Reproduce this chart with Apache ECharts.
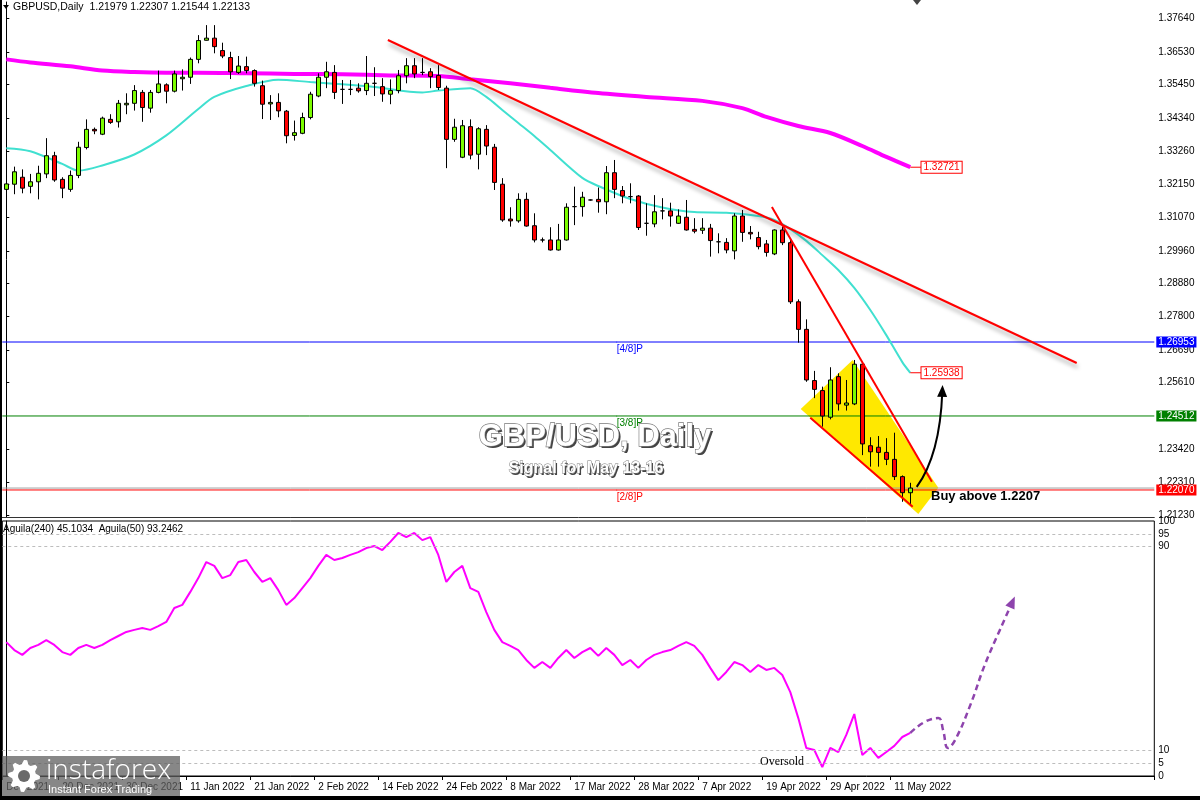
<!DOCTYPE html>
<html><head><meta charset="utf-8">
<script src="https://cdn.jsdelivr.net/npm/echarts@6/dist/echarts.min.js"></script>
<style>html,body{margin:0;padding:0;background:#fff}#c{width:1200px;height:800px}</style>
</head><body><div id="c"></div>
<script>
// ---------- DATA ----------
const opens=[1.3199,1.3216,1.3239,1.3209,1.3224,1.3250,1.3310,1.3232,1.3199,1.3245,
1.3337,1.3397,1.3381,1.3430,1.3422,1.3478,1.3483,1.3519,1.3467,1.3519,
1.3544,1.3523,1.3564,1.3569,1.3628,1.3691,1.3698,1.3657,1.3634,1.3585,
1.3604,1.3591,1.3541,1.3481,1.3486,1.3457,1.3377,1.3384,1.3436,1.3507,
1.3569,1.3585,1.3529,1.3529,1.3533,1.3525,1.3549,1.3538,1.3513,1.3525,
1.3574,1.3607,1.3585,1.3587,1.3575,1.3533,1.3364,1.3305,1.3406,1.3315,
1.3397,1.3338,1.3216,1.3101,1.3095,1.3166,1.3079,1.3032,1.3032,1.2999,
1.3032,1.3142,1.3142,1.3164,1.3166,1.3158,1.3254,1.3195,1.3175,1.3177,
1.3087,1.3085,1.3128,1.3128,1.3087,1.3107,1.3067,1.3064,1.3071,1.3026,
1.3024,1.2996,1.3111,1.3057,1.3040,1.3019,1.2986,1.3065,1.3023,1.2828,
1.2737,1.2568,1.2535,1.2447,1.2581,1.2487,1.2491,1.2622,1.2353,1.2348,
1.2331,1.2308,1.2251,1.21979];
const highs=[1.3221,1.3274,1.3265,1.3250,1.3277,1.3368,1.3323,1.3239,1.3261,1.3356,
1.3430,1.3403,1.3439,1.3447,1.3494,1.3516,1.3543,1.3527,1.3527,1.3591,
1.3549,1.3591,1.3595,1.3634,1.3708,1.3741,1.3741,1.3683,1.3653,1.3639,
1.3637,1.3595,1.3558,1.3510,1.3516,1.3461,1.3426,1.3452,1.3521,1.3582,
1.3620,1.3609,1.3560,1.3560,1.3549,1.3639,1.3602,1.3566,1.3562,1.3593,
1.3632,1.3632,1.3632,1.3599,1.3609,1.3541,1.3432,1.3428,1.3430,1.3404,
1.3411,1.3349,1.3236,1.3140,1.3186,1.3188,1.3120,1.3040,1.3074,1.3085,
1.3153,1.3208,1.3191,1.3166,1.3205,1.3276,1.3296,1.3210,1.3219,1.3180,
1.3153,1.3180,1.3170,1.3155,1.3133,1.3164,1.3104,1.3104,1.3085,1.3054,
1.3038,1.3120,1.3131,1.3078,1.3059,1.3032,1.3067,1.3076,1.3038,1.2836,
1.2770,1.2600,1.2548,1.2612,1.2592,1.2570,1.2636,1.2625,1.2381,1.2385,
1.2378,1.2396,1.2255,1.22307];
const lows=[1.3166,1.3183,1.3186,1.3186,1.3166,1.3236,1.3224,1.3170,1.3191,1.3236,
1.3331,1.3381,1.3378,1.3415,1.3403,1.3447,1.3459,1.3422,1.3452,1.3516,
1.3483,1.3519,1.3525,1.3547,1.3615,1.3690,1.3648,1.3632,1.3563,1.3580,
1.3582,1.3538,1.3431,1.3428,1.3437,1.3351,1.3360,1.3381,1.3430,1.3503,
1.3533,1.3497,1.3481,1.3510,1.3518,1.3510,1.3507,1.3488,1.3480,1.3516,
1.3549,1.3566,1.3576,1.3533,1.3527,1.3269,1.3356,1.3302,1.3298,1.3265,
1.3312,1.3197,1.3092,1.3076,1.3089,1.3076,1.3024,1.3024,1.2997,1.2997,
1.3030,1.3081,1.3109,1.3162,1.3122,1.3117,1.3170,1.3153,1.3153,1.3065,
1.3046,1.3074,1.3100,1.3076,1.3085,1.3063,1.3054,1.3052,1.2977,1.2988,
1.2988,1.2968,1.3026,1.3034,1.3001,1.2977,1.2982,1.3015,1.2821,1.2693,
1.2564,1.2510,1.2416,1.2440,1.2469,1.2469,1.2487,1.2322,1.2284,1.2284,
1.2289,1.2240,1.2168,1.21544];
const closes=[1.3217,1.3257,1.3203,1.3224,1.3252,1.3310,1.3230,1.3203,1.3245,1.3338,
1.3397,1.3392,1.3434,1.3420,1.3483,1.3483,1.3525,1.3469,1.3519,1.3547,
1.3523,1.3580,1.3569,1.3628,1.3690,1.3698,1.3670,1.3639,1.3587,1.3606,
1.3591,1.3549,1.3480,1.3486,1.3458,1.3376,1.3386,1.3436,1.3513,1.3569,
1.3587,1.3519,1.3529,1.3529,1.3524,1.3549,1.3549,1.3514,1.3525,1.3574,
1.3607,1.3580,1.3585,1.3571,1.3535,1.3364,1.3404,1.3409,1.3312,1.3399,
1.3342,1.3222,1.3098,1.3095,1.3166,1.3078,1.3032,1.3032,1.2999,1.3032,
1.3140,1.3142,1.3173,1.3164,1.3158,1.3254,1.3199,1.3177,1.3175,1.3073,
1.3087,1.3125,1.3128,1.3111,1.3111,1.3065,1.3061,1.3071,1.3030,1.3026,
1.2999,1.3111,1.3057,1.3052,1.3010,1.2991,1.3065,1.3023,1.2828,1.2737,
1.2570,1.2539,1.2451,1.2570,1.2491,1.2494,1.2622,1.2359,1.2333,1.2331,
1.2308,1.2251,1.2198,1.22133];

const maSlowIdx=[0,3,8,12,16,20,24,30,36,42,48,54,58,63,68,74,80,87,92,95,99,103,107,110,113];
const maSlowVal=[1.3628,1.3618,1.3605,1.3591,1.3586,1.3584,1.3584,1.3582,1.3580,1.3579,1.3575,1.3573,1.3562,1.3549,1.3534,1.3517,1.3504,1.3491,1.3467,1.3438,1.3408,1.3385,1.3342,1.3306,1.32721];
const maFastIdx=[0,3,7,9,12,16,20,24,26,30,34,38,42,46,52,54,58,60,62,64,66,68,72,74,78,82,86,90,94,96,98,100,102,104,106,108,110,112,113];
const maFastVal=[1.3335,1.3325,1.3283,1.3261,1.3278,1.3314,1.3377,1.3464,1.3504,1.3540,1.3561,1.3553,1.3546,1.3537,1.3519,1.3525,1.3533,1.3504,1.3461,1.3418,1.3375,1.3329,1.3237,1.3210,1.3167,1.3139,1.3124,1.3122,1.3111,1.3098,1.3068,1.3029,1.2982,1.2933,1.2874,1.2801,1.2718,1.2629,1.25938];

const aguila=[52.5,49.4,47.5,50.2,51.4,53.3,51.4,48.6,47.5,50.2,
51.4,50.2,51.4,53.3,54.9,56.5,57.3,58.0,57.3,58.8,
60.4,65.9,67.1,72.2,77.6,83.9,82.4,77.6,78.8,83.9,
84.7,80.0,76.1,77.6,72.9,67.1,69.8,73.7,77.6,82.4,
86.7,84.7,85.5,86.7,87.8,89.4,90.2,88.6,91.8,95.3,
93.7,95.3,92.5,93.7,86.7,76.1,80.0,82.4,73.7,72.2,
64.3,57.3,52.5,51.0,49.4,45.5,42.4,44.7,42.4,46.3,
49.4,46.3,48.6,50.2,47.1,50.2,47.5,43.5,45.5,42.4,
45.5,47.5,48.6,49.4,51.0,52.5,51.0,47.5,42.4,37.6,
40.8,44.7,43.5,40.8,43.5,41.6,42.4,39.6,32.9,22.7,
11.0,10.2,3.5,11.0,9.4,16.1,24.3,8.2,11.0,7.1,
9.4,11.8,15.3,16.9];
const projIdx=[113,114.8,116.5,117.1,117.7,118.6,120.5,122.3,124.2,125.7];
const projVal=[16.9,21.2,22.7,18.0,11.0,14.1,27.8,43.5,57.3,67.8];

const priceTicks=[1.21230,1.22310,1.23420,1.25610,1.26690,1.27800,1.28880,1.29960,1.31070,1.32150,1.33260,1.34340,1.35450,1.36530,1.37640];
const oscTicks=[0,5,10,90,95,100];
const oscLevels=[5,10,90,95];
const levelValues=[1.26953,1.24512,1.22070];
const levelTags=['[4/8]P','[3/8]P','[2/8]P'];
const levelColors=['#0000FF','#008000','#FF0000'];
const levelTagIdx=76.3;
const bidPrice=1.22133;
const dateLabelIdx=[0,7,15,23,31,39,47,55,63,71,79,87,95,103,111];
const dateLabels=['Dec 2021','20 Dec 2021','30 Dec 2021','11 Jan 2022','21 Jan 2022','2 Feb 2022','14 Feb 2022','24 Feb 2022','8 Mar 2022','17 Mar 2022','28 Mar 2022','7 Apr 2022','19 Apr 2022','29 Apr 2022','11 May 2022'];
const trendLines=[[[47.7,1.3692],[133.8,1.2626]],[[95.7,1.3141],[115.7,1.2234]],[[100.5,1.2445],[113.3,1.2152]]];
const wedgeCorners=[[99.3,1.2474],[105.8,1.2636],[116.5,1.2214],[114.0,1.2128]];
const arrowPath=[[113.8,1.2217],[116.7,1.2322],[117.0,1.2530]];

// ---------- CHART ----------
const N=144;
const cats=Array.from({length:N},(_,i)=>String(i));
const labelMap={}; dateLabelIdx.forEach((k,j)=>labelMap[k]=dateLabels[j]);
const candleData=opens.map((o,i)=>[o,closes[i],lows[i],highs[i]]);
const pair=(xs,ys)=>xs.map((x,i)=>[x,ys[i]]);
const FONT='"Liberation Sans", Arial, sans-serif';
const GL=2.3, GW=1152;

function headPoly(tip, from, len, half){
  const dx=tip[0]-from[0], dy=tip[1]-from[1], d=Math.hypot(dx,dy)||1;
  const ux=dx/d, uy=dy/d;
  const t=[tip[0]+ux*len*0.6, tip[1]+uy*len*0.6];
  const b=[tip[0]-ux*len*0.4, tip[1]-uy*len*0.4];
  return [t,[b[0]-uy*half,b[1]+ux*half],[b[0]+uy*half,b[1]-ux*half]];
}

const series=[];
series.push({type:'custom',name:'wedge',xAxisIndex:1,yAxisIndex:0,z:1,silent:true,
  data:[wedgeCorners[0]],
  renderItem:(p,api)=>({type:'polygon',shape:{points:wedgeCorners.map(c=>api.coord(c))},style:{fill:'#FFE800'}})});
levelValues.forEach((v,k)=>{
  series.push({type:'line',xAxisIndex:1,yAxisIndex:0,z:2,silent:true,
    lineStyle:{color:levelColors[k],width:1},symbol:'none',
    data:[[-0.5,v],{value:[levelTagIdx,v],symbol:'circle',symbolSize:1,itemStyle:{color:levelColors[k]},
      label:{show:true,position:'bottom',distance:2,align:'left',formatter:levelTags[k],color:levelColors[k],fontSize:10,fontFamily:FONT}},[N-0.5,v]],
    endLabel:{show:true,distance:2,formatter:p=>p.value[1].toFixed(5),color:'#fff',backgroundColor:levelColors[k],padding:[1,2,0,2],fontSize:10,fontFamily:FONT}
  });
});
series.push({type:'line',xAxisIndex:1,yAxisIndex:0,z:2,silent:true,symbol:'none',
  lineStyle:{color:'#A0A0A0',width:1},data:[[-0.5,bidPrice],[N-0.5,bidPrice]]});
const maDefs=[[maSlowIdx,maSlowVal,'#FF00FF',4],[maFastIdx,maFastVal,'#40E0D0',2]];
maDefs.forEach(([xs,ys,col,w])=>{
  const last=[xs[xs.length-1],ys[ys.length-1]];
  series.push({type:'line',xAxisIndex:1,yAxisIndex:0,z:3,silent:true,symbol:'none',smooth:0.3,
    lineStyle:{color:col,width:w},data:pair(xs,ys)});
  series.push({type:'line',xAxisIndex:1,yAxisIndex:0,z:3,silent:true,symbol:'none',
    lineStyle:{color:'#FF0000',width:1},data:[last,[last[0]+1.4,last[1]]],
    endLabel:{show:true,distance:0,formatter:p=>p.value[1].toFixed(5),color:'#FF0000',backgroundColor:'#fff',borderColor:'#FF0000',borderWidth:1,padding:[1,2,0,2],fontSize:10,fontFamily:FONT}});
});
series.push({type:'candlestick',xAxisIndex:0,yAxisIndex:0,z:4,barWidth:5,
  itemStyle:{color:'#7CFC00',color0:'#FF0000',borderColor:'#000',borderColor0:'#000',borderWidth:1},
  data:candleData});
trendLines.forEach((seg,k)=>{
  series.push({type:'line',xAxisIndex:1,yAxisIndex:0,z:5,silent:true,symbol:'none',
    lineStyle:Object.assign({color:'#FF0000',width:2},k===0?{shadowColor:'rgba(0,0,0,0.35)',shadowBlur:4,shadowOffsetX:1,shadowOffsetY:4}:{}),
    data:seg});
});
series.push({type:'custom',xAxisIndex:1,yAxisIndex:0,z:6,silent:true,data:[arrowPath[0]],
  renderItem:(p,api)=>{
    const a=api.coord(arrowPath[0]), c=api.coord(arrowPath[1]), b=api.coord(arrowPath[2]);
    return {type:'group',children:[
      {type:'bezierCurve',shape:{x1:a[0],y1:a[1],x2:b[0],y2:b[1],cpx1:c[0],cpy1:c[1]},style:{stroke:'#000',lineWidth:2,fill:null}},
      {type:'polygon',shape:{points:headPoly(b,c,12,5)},style:{fill:'#000'}}]};
  }});
series.push({type:'line',xAxisIndex:2,yAxisIndex:1,z:3,silent:true,symbol:'none',
  lineStyle:{color:'#FF00FF',width:2},data:aguila,
  markLine:{silent:true,symbol:'none',label:{show:false},lineStyle:{type:[3,3],color:'#BDBDBD',width:1},
    data:oscLevels.map(v=>({yAxis:v}))}});
series.push({type:'line',xAxisIndex:3,yAxisIndex:1,z:4,silent:true,symbol:'none',smooth:0.45,
  lineStyle:{color:'#8E44AD',width:2.5,type:[6,4]},data:pair(projIdx,projVal)});
series.push({type:'custom',xAxisIndex:3,yAxisIndex:1,z:4,silent:true,data:[[projIdx[projIdx.length-1],projVal[projVal.length-1]]],
  renderItem:(p,api)=>{
    const n=projIdx.length;
    const b=api.coord([projIdx[n-1],projVal[n-1]]), a=api.coord([projIdx[n-2],projVal[n-2]]);
    return {type:'polygon',shape:{points:headPoly(b,a,12,5)},style:{fill:'#8E44AD'}};
  }});

function gear(cx,cy){
  const pts=[];const teeth=8;
  for(let i=0;i<teeth*4;i++){
    const ang=i/(teeth*4)*Math.PI*2;
    const r=(i%4===0||i%4===1)?16:12;
    pts.push([cx+r*Math.cos(ang),cy+r*Math.sin(ang)]);
  }
  return pts;
}

const txt=(x,y,text,font,fill,extra)=>({type:'text',x,y,z:50,silent:true,
  style:Object.assign({text,font,fill,verticalAlign:'middle',align:'left'},extra||{})});

const option={
  animation:false,
  backgroundColor:'#fff',
  grid:[{left:GL,top:2,width:GW,height:515},
        {left:GL,top:521,width:GW,height:255,show:true,borderColor:'#000',borderWidth:1}],
  xAxis:[
    {type:'category',gridIndex:0,data:cats,boundaryGap:true,axisLine:{show:true,lineStyle:{color:'#333',width:1}},axisTick:{show:false},axisLabel:{show:false},splitLine:{show:false}},
    {type:'value',gridIndex:0,min:-0.5,max:N-0.5,show:false},
    {type:'category',gridIndex:1,data:cats,boundaryGap:true,axisLine:{show:true,lineStyle:{color:'#000'}},
      axisTick:{show:true,interval:(i)=>labelMap[i]!==undefined,length:4,lineStyle:{color:'#000'}},
      axisLabel:{show:true,interval:(i)=>labelMap[i]!==undefined,formatter:(v,i)=>labelMap[i]||'',align:'left',color:'#000',fontSize:10,fontFamily:FONT,margin:6},
      splitLine:{show:false}},
    {type:'value',gridIndex:1,min:-0.5,max:N-0.5,show:false}
  ],
  yAxis:[
    {type:'value',gridIndex:0,position:'right',min:1.21178,max:1.38173,scale:true,splitLine:{show:false},
      axisLine:{show:true,lineStyle:{color:'#000'}},
      axisTick:{show:true,customValues:priceTicks,length:3,lineStyle:{color:'#000'}},
      axisLabel:{customValues:priceTicks,formatter:v=>v.toFixed(5),color:'#000',fontSize:10,fontFamily:FONT,margin:4}},
    {type:'value',gridIndex:1,position:'right',min:0,max:100,splitLine:{show:false},
      axisLine:{show:true,lineStyle:{color:'#000'}},
      axisTick:{show:false,customValues:oscTicks},
      axisLabel:{customValues:oscTicks,color:'#000',fontSize:10,fontFamily:FONT,margin:4}}
  ],
  series,
  graphic:[
    {type:'rect',z:100,silent:true,shape:{x:0,y:0,width:2,height:800},style:{fill:'#000'}},
    {type:'rect',z:100,silent:true,shape:{x:0,y:796,width:1200,height:4},style:{fill:'#000'}},
    {type:'polygon',z:50,silent:true,shape:{points:[[3,5],[9,5],[6,9]]},style:{fill:'#000'}},
    {type:'polygon',z:50,silent:true,shape:{points:[[913,0],[921,0],[917,5]]},style:{fill:'#444'}},
    txt(13,7,'GBPUSD,Daily  1.21979 1.22307 1.21544 1.22133','10.5px '+FONT,'#000'),
    txt(3,529,'Aguila(240) 45.1034  Aguila(50) 93.2462','10px '+FONT,'#000'),
    txt(597,439,'GBP/USD, Daily','bold 31px '+FONT,'#444',{align:'center',shadowColor:'rgba(0,0,0,0.6)',shadowBlur:4}),
    txt(595,437,'GBP/USD, Daily','bold 31px '+FONT,'#fff',{align:'center',stroke:'#7a7a7a',lineWidth:1.3}),
    txt(587.5,470.5,'Signal for May 13-16','bold 16px '+FONT,'#444',{align:'center',shadowColor:'rgba(0,0,0,0.6)',shadowBlur:3}),
    txt(586,469,'Signal for May 13-16','bold 16px '+FONT,'#fff',{align:'center',stroke:'#7a7a7a',lineWidth:0.9}),
    txt(931,496,'Buy above 1.2207','bold 13px '+FONT,'#000'),
    txt(760,762,'Oversold','12px "Liberation Serif", serif','#000'),
    {type:'rect',z:60,silent:true,shape:{x:2,y:756,width:178,height:40},style:{fill:'rgba(95,95,95,0.75)'}},
    {type:'polygon',z:61,silent:true,shape:{points:gear(24,776)},style:{fill:'#fff'}},
    {type:'circle',z:62,silent:true,shape:{cx:24,cy:776,r:6},style:{fill:'#6a6a6a'}},
    Object.assign(txt(46,771,'instaforex','300 28px "Open Sans", sans-serif','#fff'),{z:61}),
    Object.assign(txt(48,790,'Instant Forex Trading','11px '+FONT,'#fff'),{z:61})
  ]
};
const chart=echarts.init(document.getElementById('c'));
chart.setOption(option);
</script></body></html>
